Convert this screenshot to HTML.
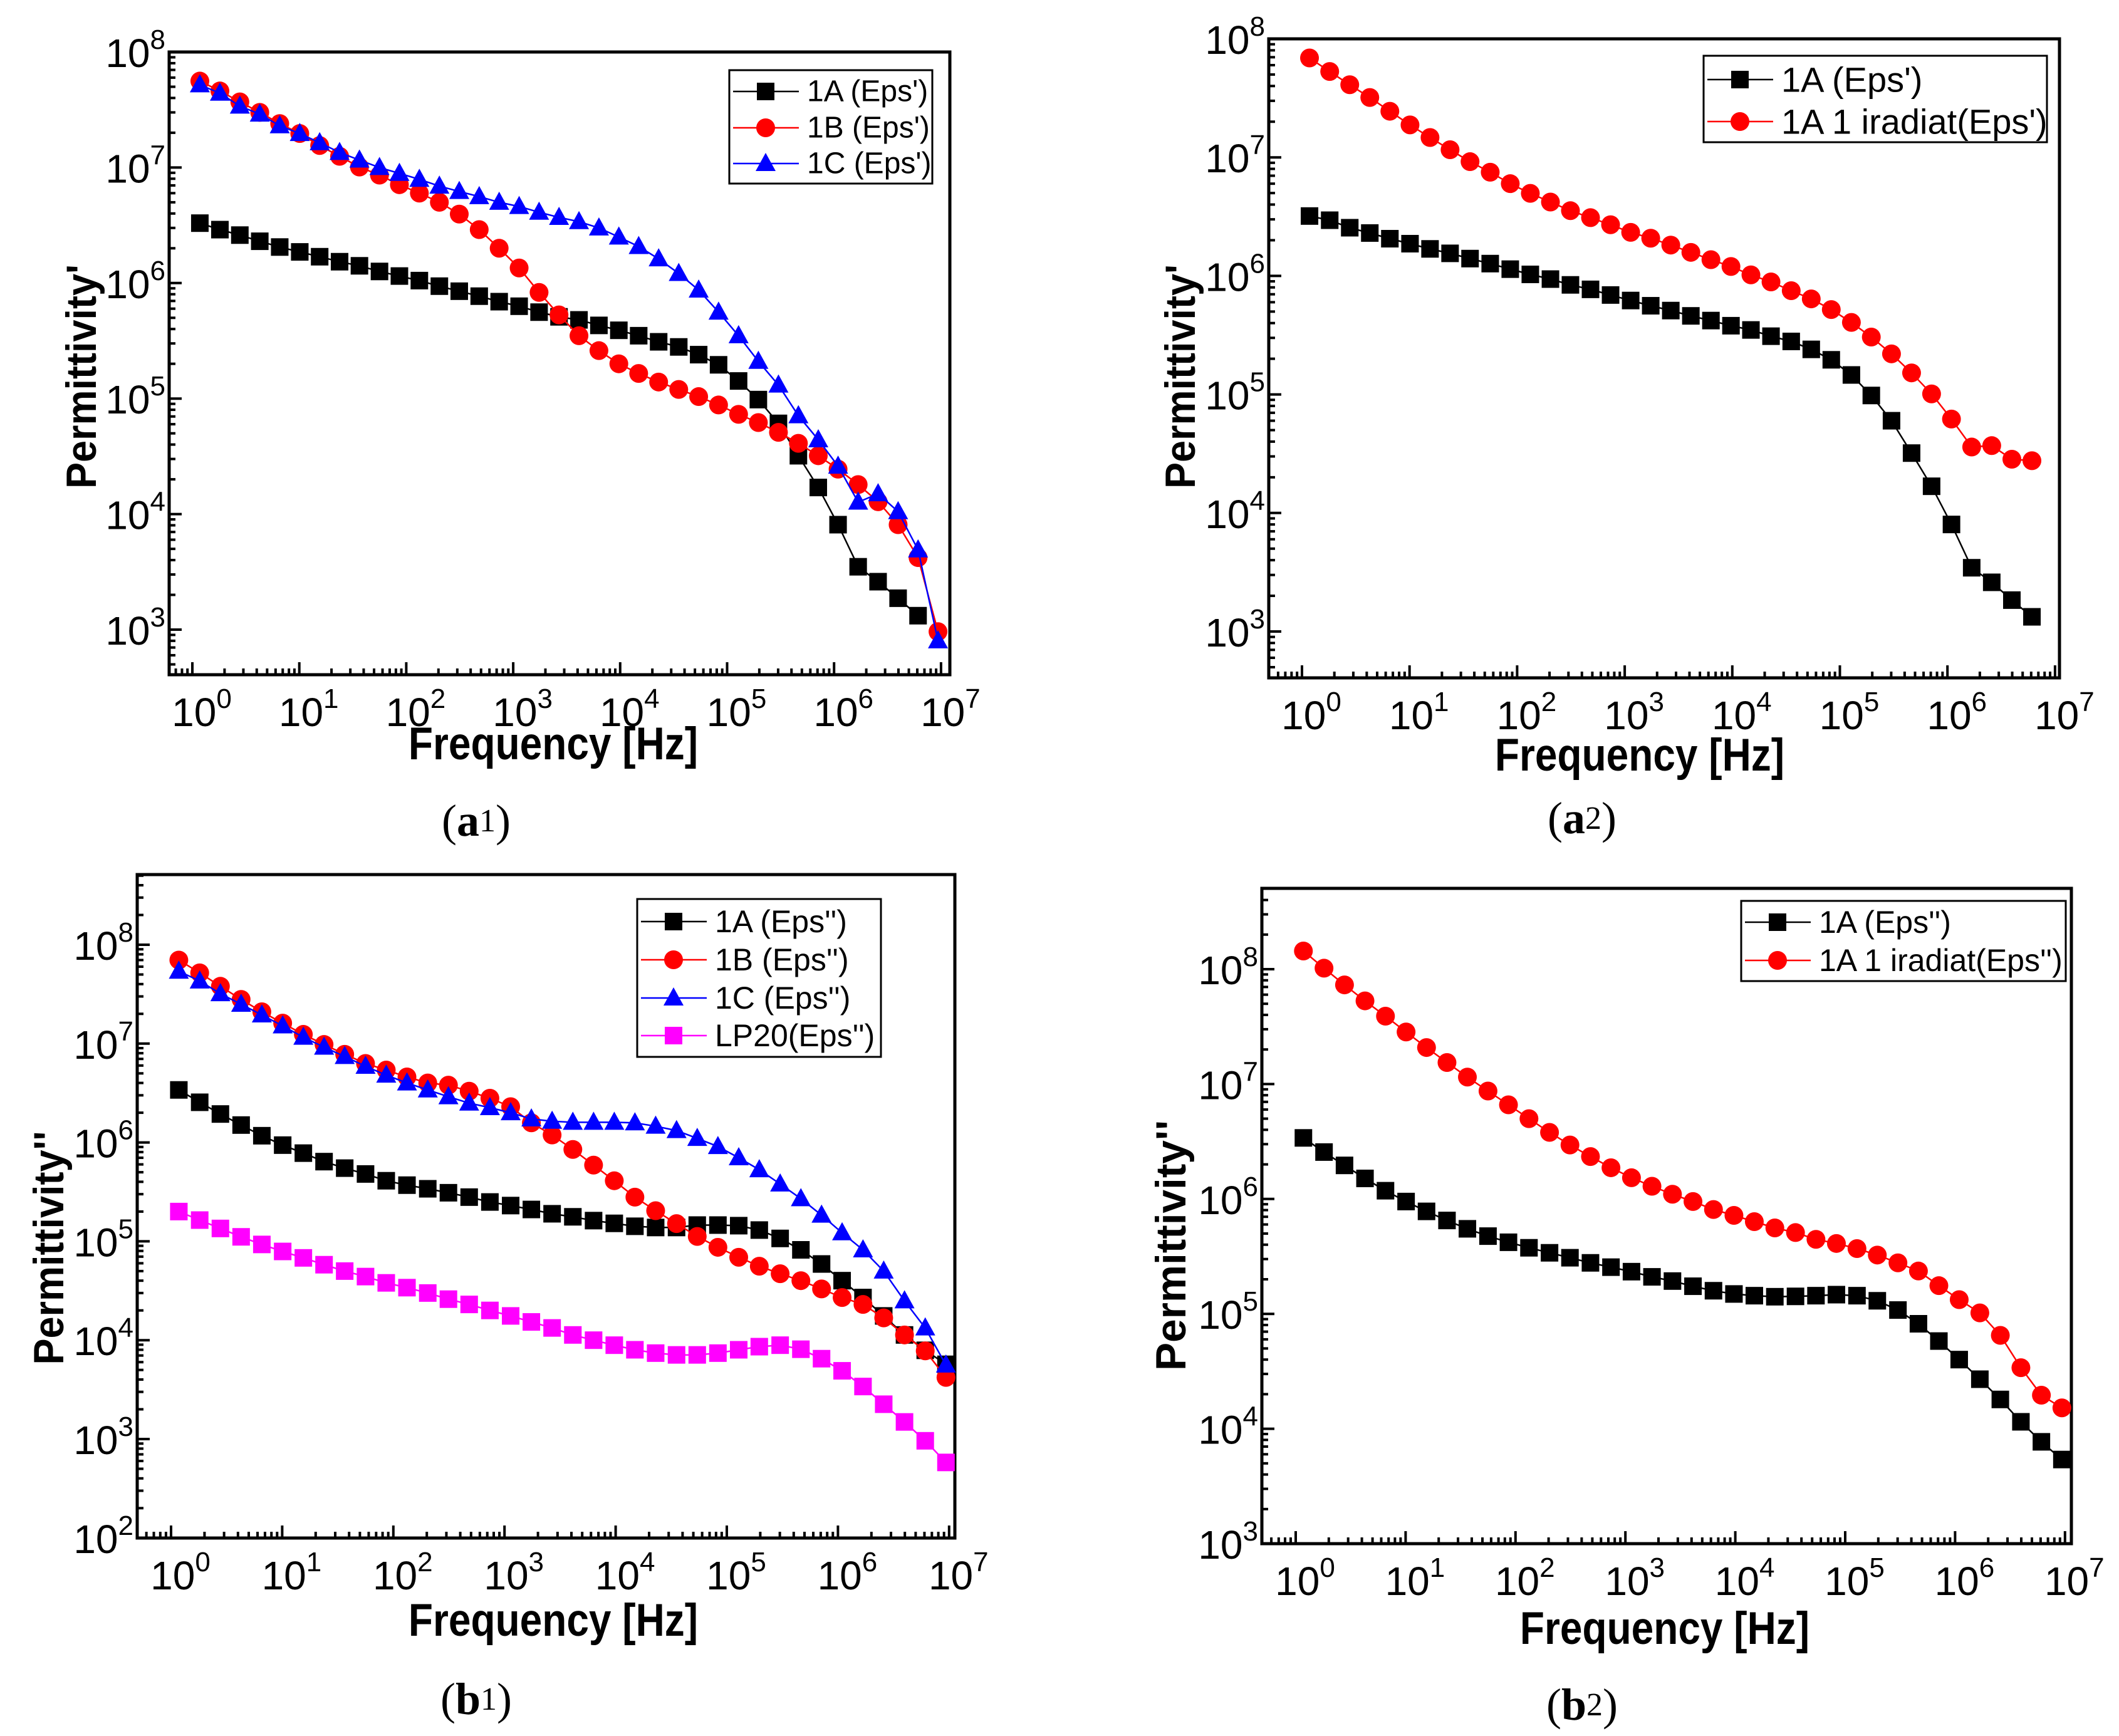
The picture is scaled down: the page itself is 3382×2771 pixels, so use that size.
<!DOCTYPE html>
<html><head><meta charset="utf-8">
<style>
html,body{margin:0;padding:0;background:#fff;}
svg{display:block;}
text{font-family:"Liberation Sans",Arial,sans-serif;}
</style></head>
<body>
<svg id="fig" xmlns="http://www.w3.org/2000/svg" width="3382" height="2771" viewBox="0 0 3382 2771"></svg>
<script>
// Shared frequency grid (Hz)
const freqs = [1.175,1.81,2.78,4.27,6.56,10.1,15.5,23.8,36.5,56.2,86.3,132.6,204,313,481,739,1136,1745,2681,4120,6330,9720,1.49e4,2.29e4,3.53e4,5.42e4,8.32e4,1.28e5,1.96e5,3.02e5,4.64e5,7.12e5,1.09e6,1.68e6,2.58e6,3.97e6,6.1e6,9.37e6];

// (a1) Eps'
const a1_1A = [3.3e6,2.9e6,2.6e6,2.3e6,2.05e6,1.86e6,1.69e6,1.53e6,1.41e6,1.26e6,1.15e6,1.05e6,9.4e5,8.5e5,7.7e5,6.9e5,6.3e5,5.6e5,5.1e5,4.8e5,4.3e5,3.9e5,3.5e5,3.1e5,2.8e5,2.4e5,1.96e5,1.42e5,9.8e4,6.1e4,3.2e4,1.7e4,8.1e3,3.5e3,2.6e3,1.87e3,1.32e3];
const a1_1B = [5.6e7,4.6e7,3.7e7,3.0e7,2.4e7,1.97e7,1.55e7,1.25e7,1.01e7,8.6e6,7.1e6,6.0e6,5.0e6,3.95e6,2.9e6,2.0e6,1.35e6,8.3e5,5.3e5,3.5e5,2.6e5,2.0e5,1.65e5,1.39e5,1.2e5,1.04e5,8.8e4,7.3e4,6.2e4,5.1e4,4.1e4,3.2e4,2.45e4,1.8e4,1.28e4,8.1e3,4.2e3,9.6e2];
const a1_1C = [5.2e7,4.4e7,3.4e7,2.9e7,2.3e7,1.97e7,1.64e7,1.35e7,1.16e7,1.0e7,8.9e6,7.9e6,6.9e6,6.2e6,5.6e6,5.0e6,4.6e6,4.1e6,3.7e6,3.4e6,3.0e6,2.5e6,2.07e6,1.62e6,1.21e6,8.7e5,5.6e5,3.5e5,2.1e5,1.31e5,7.1e4,4.4e4,2.6e4,1.27e4,1.5e4,1.05e4,4.9e3,8.0e2];

// (a2) Eps'
const a2_1A = [3.2e6,2.95e6,2.55e6,2.3e6,2.06e6,1.87e6,1.69e6,1.55e6,1.4e6,1.27e6,1.14e6,1.03e6,9.4e5,8.4e5,7.7e5,6.9e5,6.2e5,5.6e5,5.1e5,4.6e5,4.2e5,3.8e5,3.5e5,3.1e5,2.8e5,2.4e5,1.96e5,1.46e5,9.8e4,6.0e4,3.2e4,1.68e4,8.0e3,3.45e3,2.6e3,1.84e3,1.33e3];
const a2_irr = [6.9e7,5.3e7,4.1e7,3.2e7,2.45e7,1.88e7,1.47e7,1.16e7,9.2e6,7.5e6,6.0e6,4.97e6,4.2e6,3.55e6,3.1e6,2.7e6,2.33e6,2.08e6,1.82e6,1.58e6,1.37e6,1.2e6,1.02e6,8.9e5,7.5e5,6.4e5,5.2e5,4.05e5,3.05e5,2.2e5,1.52e5,1.01e5,6.2e4,3.6e4,3.7e4,2.84e4,2.76e4];

// (b1) Eps''
const b1_1A = [3.4e6,2.55e6,1.94e6,1.5e6,1.17e6,9.4e5,7.8e5,6.4e5,5.5e5,4.8e5,4.1e5,3.7e5,3.4e5,3.1e5,2.8e5,2.5e5,2.3e5,2.1e5,1.9e5,1.77e5,1.62e5,1.52e5,1.42e5,1.38e5,1.38e5,1.46e5,1.46e5,1.44e5,1.3e5,1.07e5,8.2e4,5.9e4,4.0e4,2.7e4,1.76e4,1.13e4,7.9e3,5.7e3];
const b1_1B = [7.0e7,5.2e7,3.8e7,2.8e7,2.1e7,1.61e7,1.24e7,9.8e6,7.8e6,6.3e6,5.4e6,4.6e6,4.0e6,3.8e6,3.3e6,2.8e6,2.3e6,1.58e6,1.19e6,8.5e5,5.9e5,4.1e5,2.8e5,2.04e5,1.51e5,1.12e5,8.7e4,6.9e4,5.6e4,4.7e4,4.0e4,3.3e4,2.7e4,2.3e4,1.68e4,1.13e4,7.8e3,4.2e3];
const b1_1C = [5.4e7,4.3e7,3.2e7,2.5e7,1.95e7,1.51e7,1.16e7,9.2e6,7.4e6,5.9e6,4.8e6,4.0e6,3.4e6,2.9e6,2.5e6,2.25e6,2.0e6,1.73e6,1.64e6,1.6e6,1.6e6,1.6e6,1.58e6,1.46e6,1.32e6,1.1e6,9.1e5,7.0e5,5.3e5,3.8e5,2.7e5,1.84e5,1.22e5,8.2e4,5.0e4,2.5e4,1.33e4,5.6e3];
const b1_LP20 = [2.0e5,1.64e5,1.35e5,1.11e5,9.3e4,7.9e4,6.8e4,5.8e4,5.0e4,4.4e4,3.8e4,3.4e4,3.0e4,2.6e4,2.3e4,2.0e4,1.76e4,1.53e4,1.33e4,1.13e4,1.0e4,8.9e3,8.0e3,7.4e3,7.1e3,7.1e3,7.4e3,8.0e3,8.6e3,8.9e3,8.1e3,6.5e3,4.9e3,3.4e3,2.25e3,1.49e3,9.6e2,5.8e2];

// (b2) Eps''
const b2_1A = [3.4e6,2.56e6,1.96e6,1.51e6,1.18e6,9.5e5,7.8e5,6.5e5,5.5e5,4.75e5,4.2e5,3.76e5,3.4e5,3.08e5,2.78e5,2.55e5,2.33e5,2.1e5,1.93e5,1.74e5,1.59e5,1.49e5,1.44e5,1.41e5,1.42e5,1.44e5,1.47e5,1.44e5,1.3e5,1.08e5,8.2e4,5.8e4,4.0e4,2.7e4,1.8e4,1.15e4,7.7e3,5.4e3];
const b2_irr = [1.44e8,1.02e8,7.3e7,5.3e7,3.9e7,2.84e7,2.08e7,1.54e7,1.15e7,8.7e6,6.6e6,5.0e6,3.8e6,2.95e6,2.34e6,1.87e6,1.53e6,1.29e6,1.1e6,9.5e5,8.1e5,7.2e5,6.35e5,5.6e5,5.1e5,4.45e5,4.1e5,3.7e5,3.25e5,2.78e5,2.36e5,1.76e5,1.33e5,1.02e5,6.5e4,3.4e4,1.96e4,1.52e4];

const xTickExps = [0,1,2,3,4,5,6,7];

const NS = "http://www.w3.org/2000/svg";
const svg = document.getElementById('fig');
function mk(tag, attrs, parent){
  const e = document.createElementNS(NS, tag);
  for (const k in attrs) e.setAttribute(k, attrs[k]);
  (parent||svg).appendChild(e);
  return e;
}

const panels = [
  {id:'a1', box:[270,83,1516,1077], x0:307, xd:170.7, y8:83, yd:184.4, yExps:[3,4,5,6,7,8],
   ytitle:"Permittivity'", ytx:130, yty:601, ylen:358, xtx:883, xtb:1212, cap:['a','1'], capx:760, capy:1310,
   leg:{x:1164,y:112,w:324,h:181,rows:[146,204,261],fs:48},
   series:[{name:"1A (Eps')",data:a1_1A,color:'#000',m:'square'},{name:"1B (Eps')",data:a1_1B,color:'#ff0000',m:'circle'},{name:"1C (Eps')",data:a1_1C,color:'#0000ff',m:'tri'}]},
  {id:'a2', box:[2025,62,3287,1082], x0:2078, xd:171.7, y8:62, yd:189.2, yExps:[3,4,5,6,7,8],
   ytitle:"Permittivity'", ytx:1884, yty:601, ylen:358, xtx:2617, xtb:1230, cap:['a','2'], capx:2525, capy:1306,
   leg:{x:2719,y:89,w:548,h:138,rows:[127,194],fs:56},
   series:[{name:"1A (Eps')",data:a2_1A,color:'#000',m:'square'},{name:"1A 1 iradiat(Eps')",data:a2_irr,color:'#ff0000',m:'circle'}]},
  {id:'b1', box:[219,1396,1524,2455], x0:273, xd:177.4, y8:1508, yd:157.8, yExps:[2,3,4,5,6,7,8],
   ytitle:"Permittivity''", ytx:78, yty:1992, ylen:373, xtx:883, xtb:2611, cap:['b','1'], capx:760, capy:2712,
   leg:{x:1017,y:1435,w:389,h:252,rows:[1471,1532,1593,1653],fs:50},
   series:[{name:"1A (Eps'')",data:b1_1A,color:'#000',m:'square'},{name:"1B (Eps'')",data:b1_1B,color:'#ff0000',m:'circle'},{name:"1C (Eps'')",data:b1_1C,color:'#0000ff',m:'tri'},{name:"LP20(Eps'')",data:b1_LP20,color:'#ff00ff',m:'square'}]},
  {id:'b2', box:[2014,1418,3306,2464], x0:2068, xd:175.4, y8:1547, yd:183.4, yExps:[3,4,5,6,7,8],
   ytitle:"Permittivity''", ytx:1869, yty:1988, ylen:400, xtx:2657, xtb:2624, cap:['b','2'], capx:2525, capy:2721,
   leg:{x:2779,y:1438,w:518,h:128,rows:[1472,1533],fs:50},
   series:[{name:"1A (Eps'')",data:b2_1A,color:'#000',m:'square'},{name:"1A 1 iradiat(Eps'')",data:b2_irr,color:'#ff0000',m:'circle'}]}
];

function marker(g, type, x, y, color){
  let e;
  if (type==='square'){
    e = mk('rect',{x:x-14,y:y-14,width:28,height:28,fill:color},g);
  } else if (type==='circle'){
    e = mk('circle',{cx:x,cy:y,r:15,fill:color},g);
  } else {
    e = mk('polygon',{points:`${x},${y-17} ${x-16},${y+12} ${x+16},${y+12}`,fill:color},g);
  }
  return e;
}

panels.forEach(p=>{
  const [L,T,R,B] = p.box;
  const X = f => p.x0 + Math.log10(f)*p.xd;
  const Y = v => p.y8 + (8-Math.log10(v))*p.yd;
  const g = mk('g',{});
  
  

  // ticks
  const tg = mk('g',{stroke:'#000','stroke-width':4},g);
  
  
  for (let e=-1;e<=7;e++){
    for (let m=1;m<=9;m++){
      const x = X(m*Math.pow(10,e));
      if (x<L+3||x>R-1) continue;
      const len = m===1?20:10;
      mk('line',{x1:x,y1:B,x2:x,y2:B-len},tg);
    }
  }
  for (let e=1;e<=9;e++){
    for (let m=1;m<=9;m++){
      const y = Y(m*Math.pow(10,e));
      if (y<T+1||y>B-3) continue;
      const len = m===1?20:10;
      mk('line',{x1:L,y1:y,x2:L+len,y2:y},tg);
    }
  }

  // frame
  const fr = mk('rect',{x:L,y:T,width:R-L,height:B-T,fill:'none',stroke:'#000','stroke-width':5},g);
  
  

  // x tick labels
  xTickExps.forEach(e=>{
    const t = mk('text',{x:X(Math.pow(10,e))+15,y:B+82,'font-size':64,'text-anchor':'middle',fill:'#000'},g);
    
    
    t.appendChild(document.createTextNode('10'));
    const s = mk('tspan',{'font-size':44,dy:-29},t);
    s.textContent = String(e);
  });
  // y tick labels
  p.yExps.forEach(e=>{
    const t = mk('text',{x:L-6,y:Y(Math.pow(10,e))+24,'font-size':64,'text-anchor':'end',fill:'#000'},g);
    
    
    t.appendChild(document.createTextNode('10'));
    const s = mk('tspan',{'font-size':44,dy:-29},t);
    s.textContent = String(e);
  });

  // titles
  const xt = mk('text',{x:0,y:0,'font-size':64,'font-weight':'bold','text-anchor':'middle',transform:`translate(${p.xtx},${p.xtb}) scale(1,1.15)`},g);
  
  
  xt.textContent = 'Frequency [Hz]';
  const yt = mk('text',{x:0,y:0,'font-size':68,'font-weight':'bold','text-anchor':'middle','dominant-baseline':'central',textLength:p.ylen,lengthAdjust:'spacingAndGlyphs',transform:`translate(${p.ytx},${p.yty}) rotate(-90)`},g);
  
  
  yt.textContent = p.ytitle;

  // caption
  const cp = mk('text',{x:p.capx,y:p.capy,'font-size':72,'text-anchor':'middle','dominant-baseline':'central',style:'font-family:"Liberation Serif",serif'},g);
  
  
  cp.appendChild(document.createTextNode('('));
  const cb = mk('tspan',{'font-weight':'bold'},cp); cb.textContent = p.cap[0];
  const cs = mk('tspan',{'font-size':52},cp); cs.textContent = p.cap[1];
  const cq = mk('tspan',{'font-size':72},cp); cq.textContent = ')';

  // series
  p.series.forEach((s,si)=>{
    const sg = mk('g',{},g);
    
    
    const pts = s.data.map((v,i)=>X(freqs[i]).toFixed(1)+','+Y(v).toFixed(1)).join(' ');
    const pl = mk('polyline',{points:pts,fill:'none',stroke:s.color,'stroke-width':2.5},sg);
    
    
    s.data.forEach((v,i)=>{
      const mm = marker(sg,s.m,X(freqs[i]),Y(v),s.color);
      
      
    });
  });

  // legend
  const lg = mk('g',{},g);
  
  
  const lb = mk('rect',{x:p.leg.x,y:p.leg.y,width:p.leg.w,height:p.leg.h,fill:'#fff',stroke:'#000','stroke-width':3},lg);
  
  
  p.series.forEach((s,si)=>{
    const ry = p.leg.rows[si];
    const eg = mk('g',{},lg);
    
    
    mk('line',{x1:p.leg.x+6,y1:ry,x2:p.leg.x+111,y2:ry,stroke:s.color,'stroke-width':2.5},eg);
    marker(eg,s.m,p.leg.x+58,ry,s.color);
    const t = mk('text',{x:p.leg.x+124,y:ry,'font-size':p.leg.fs,'dominant-baseline':'central',fill:'#000'},eg);
    t.textContent = s.name;
  });
});
</script>
</body></html>
